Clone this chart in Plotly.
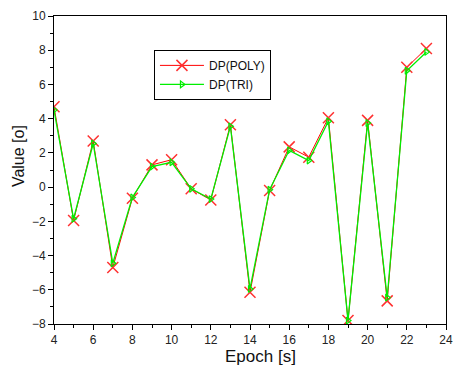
import plotly.graph_objects as go

epoch = [4, 5, 6, 7, 8, 9, 10, 11, 12, 13, 14, 15, 16, 17, 18, 19, 20, 21, 22, 23]
dp_poly = [4.7, -1.95, 2.7, -4.7, -0.65, 1.3, 1.6, -0.1, -0.75, 3.65, -6.15, -0.2, 2.35, 1.75, 4.05, -7.8, 3.9, -6.65, 7.0, 8.1]
dp_tri = [4.5, -1.85, 2.55, -4.45, -0.6, 1.2, 1.45, -0.1, -0.7, 3.55, -5.95, -0.15, 2.15, 1.55, 3.85, -7.8, 3.75, -6.45, 6.8, 7.9]
x_title = "Epoch [s]"
y_title = "Value [o]"

fig = go.Figure()
fig.add_trace(go.Scatter(
    x=epoch, y=dp_poly, name="DP(POLY)", mode="lines+markers",
    line=dict(color="#ff0000", width=1),
    marker=dict(symbol="x-thin", size=11, line=dict(color="#ff3030", width=1.5)),
))
fig.add_trace(go.Scatter(
    x=epoch, y=dp_tri, name="DP(TRI)", mode="lines+markers",
    line=dict(color="#00ee00", width=1.3),
    marker=dict(symbol="triangle-right-open", size=6, color="#00ee00", line=dict(width=1.2)),
))

axis_common = dict(
    showline=True, linecolor="black", linewidth=1, mirror=True,
    ticks="outside", ticklen=5, tickcolor="black", showgrid=False, zeroline=False,
    automargin=False,
    tickfont=dict(family="Liberation Sans, Arial", size=12, color="#222"),
    minor=dict(ticks="outside", ticklen=3, tickcolor="black", dtick=1),
)

fig.update_layout(
    width=454, height=367,
    margin=dict(l=54, r=8, t=16, b=43),
    paper_bgcolor="white", plot_bgcolor="white",
    font=dict(family="Liberation Sans, Arial", size=12, color="black"),
    xaxis=dict(range=[4, 24], dtick=2, tick0=4, **axis_common),
    yaxis=dict(range=[-8, 10], dtick=2, tick0=0, **axis_common),
    showlegend=True,
    legend=dict(x=0.255, y=0.89, xanchor="left", yanchor="top",
                bordercolor="black", borderwidth=1, bgcolor="white",
                font=dict(size=12, color="#111"), tracegroupgap=0, itemwidth=44),
    annotations=[
        dict(text=x_title, xref="paper", yref="paper", x=0.528, y=-0.107,
             xanchor="center", yanchor="middle", showarrow=False,
             font=dict(size=17, color="#111")),
        dict(text=y_title, xref="paper", yref="paper", x=-0.092, y=0.545,
             xanchor="center", yanchor="middle", showarrow=False, textangle=-90,
             font=dict(size=16, color="#111")),
    ],
)

fig.write_html("out.html", config={"displayModeBar": False},
               post_script="document.body.style.margin='0';")
